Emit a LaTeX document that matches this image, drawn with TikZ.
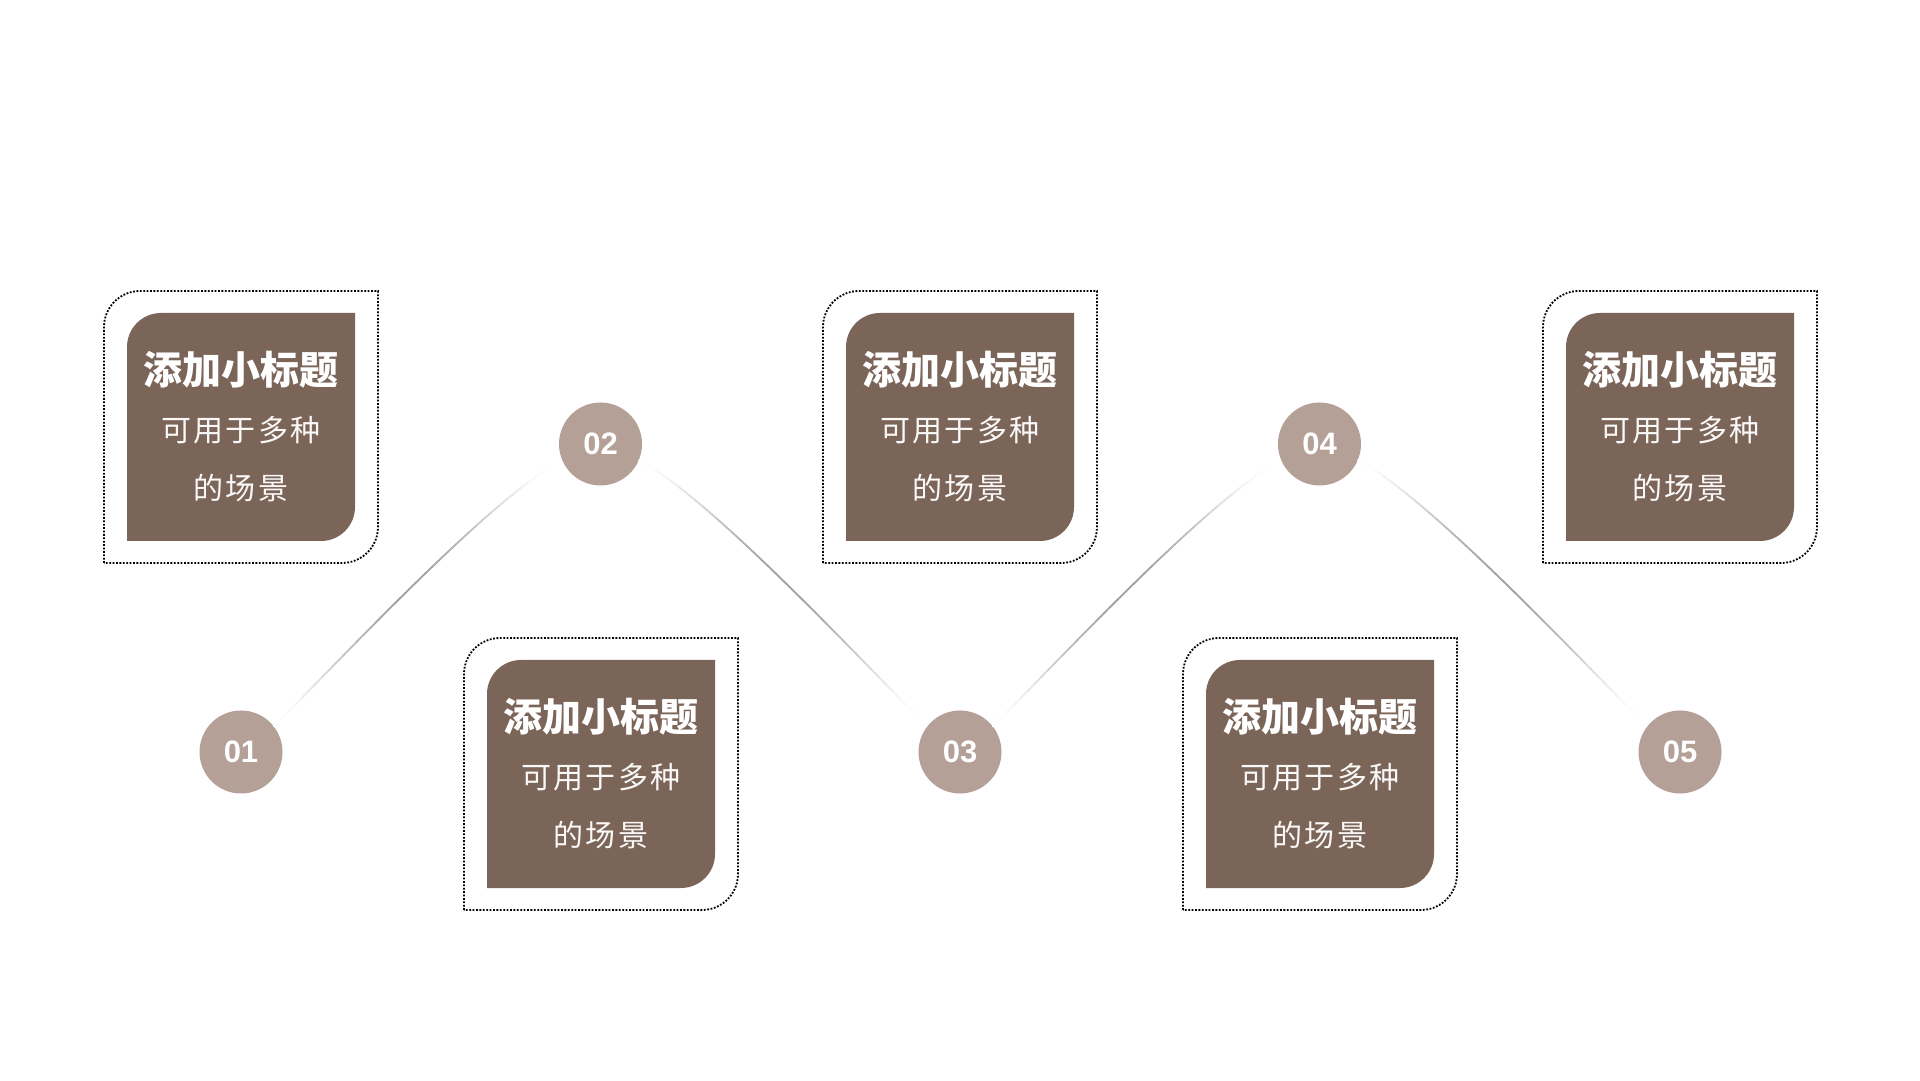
\documentclass[tikz,border=0pt]{standalone}
\usepackage{fontspec}
\newfontfamily\cjk{Noto Sans CJK SC}
\newfontfamily\cjksub[LetterSpace=8]{Noto Sans CJK SC}
\newfontfamily\numfont{Liberation Sans}
\usetikzlibrary{decorations.markings}
\definecolor{cardbrown}{RGB}{123,101,89}
\definecolor{circfill}{RGB}{180,160,150}
\definecolor{wavegray}{RGB}{160,160,160}
\tikzset{
  outerdots/.style={draw=black, line width=1.8pt, dash pattern=on 1.8pt off 1.6pt},
  cardfill/.style={fill=cardbrown},
  titletext/.style={text=white, inner sep=0pt, font=\cjk\bfseries\fontsize{39}{47}\selectfont},
  subtext/.style={text=white!96!cardbrown, inner sep=0pt, font=\cjksub\fontsize{30}{36}\selectfont},
  numcircle/.style={circle, fill=circfill, minimum size=83pt, inner sep=0pt, text=white, font=\numfont\bfseries\fontsize{31}{36}\selectfont},
  wavemarks/.style={postaction={decorate, decoration={markings,
      mark=between positions 0 and 1 step 0.025 with {\coordinate (#1-\pgfkeysvalueof{/pgf/decoration/mark info/sequence number});}}}},
  wave/.style={line width=1.8pt, line cap=round}
}
\newcommand\mycard[3]{%
  \draw[outerdots] (#2-137,#3-136) -- (#2-137,#3+136-36) arc[start angle=180, end angle=90, radius=36] -- (#2+137,#3+136) -- (#2+137,#3-136+36) arc[start angle=0, end angle=-90, radius=36] -- cycle;
  \fill[cardfill] (#2-114,#3-114) -- (#2-114,#3+114-34) arc[start angle=180, end angle=90, radius=34] -- (#2+114,#3+114) -- (#2+114,#3-114+34) arc[start angle=0, end angle=-90, radius=34] -- cycle;
  \node[titletext] (#1t) at (#2,#3+57) {添加小标题};
  \node[subtext] (#1s) at (#2,#3-3) {可用于多种};
  \node[subtext] (#1u) at (#2,#3-61) {的场景};
}
\newcommand\drawwave[1]{%
  \foreach \i [evaluate=\i as \j using int(\i+1), evaluate=\i as \pp using {100*(sin(180*(\i-0.5)/39))^1.6}] in {1,...,39}{
    \draw[wave, draw=wavegray!\pp!white] (#1-\i) -- (#1-\j);
  }%
}
\begin{document}
\begin{tikzpicture}[x=1pt, y=1pt]
\useasboundingbox (0,0) rectangle (1920,1080);
\fill[white] (0,0) rectangle (1920,1080);

% cards
\mycard{k1}{241}{653}
\mycard{k2}{601}{306}
\mycard{k3}{960}{653}
\mycard{k4}{1320}{306}
\mycard{k5}{1680}{653}

% circles
\node[numcircle] (c1) at (241,328) {01};
\node[numcircle] (c2) at (600.5,636) {02};
\node[numcircle] (c3) at (960,328) {03};
\node[numcircle] (c4) at (1319.5,636) {04};
\node[numcircle] (c5) at (1680,328) {05};

% wave paths (sampled, then drawn with a gradient)
\path[wavemarks=wa] (c1.38) .. controls +(70,70) and +(-70,-36) .. (c2.203);
\path[wavemarks=wb] (c2.337) .. controls +(70,-36) and +(-70,70) .. (c3.142);
\path[wavemarks=wc] (c3.38) .. controls +(70,70) and +(-70,-36) .. (c4.203);
\path[wavemarks=wd] (c4.337) .. controls +(70,-36) and +(-70,70) .. (c5.142);
\drawwave{wa}
\drawwave{wb}
\drawwave{wc}
\drawwave{wd}
\end{tikzpicture}
\end{document}
